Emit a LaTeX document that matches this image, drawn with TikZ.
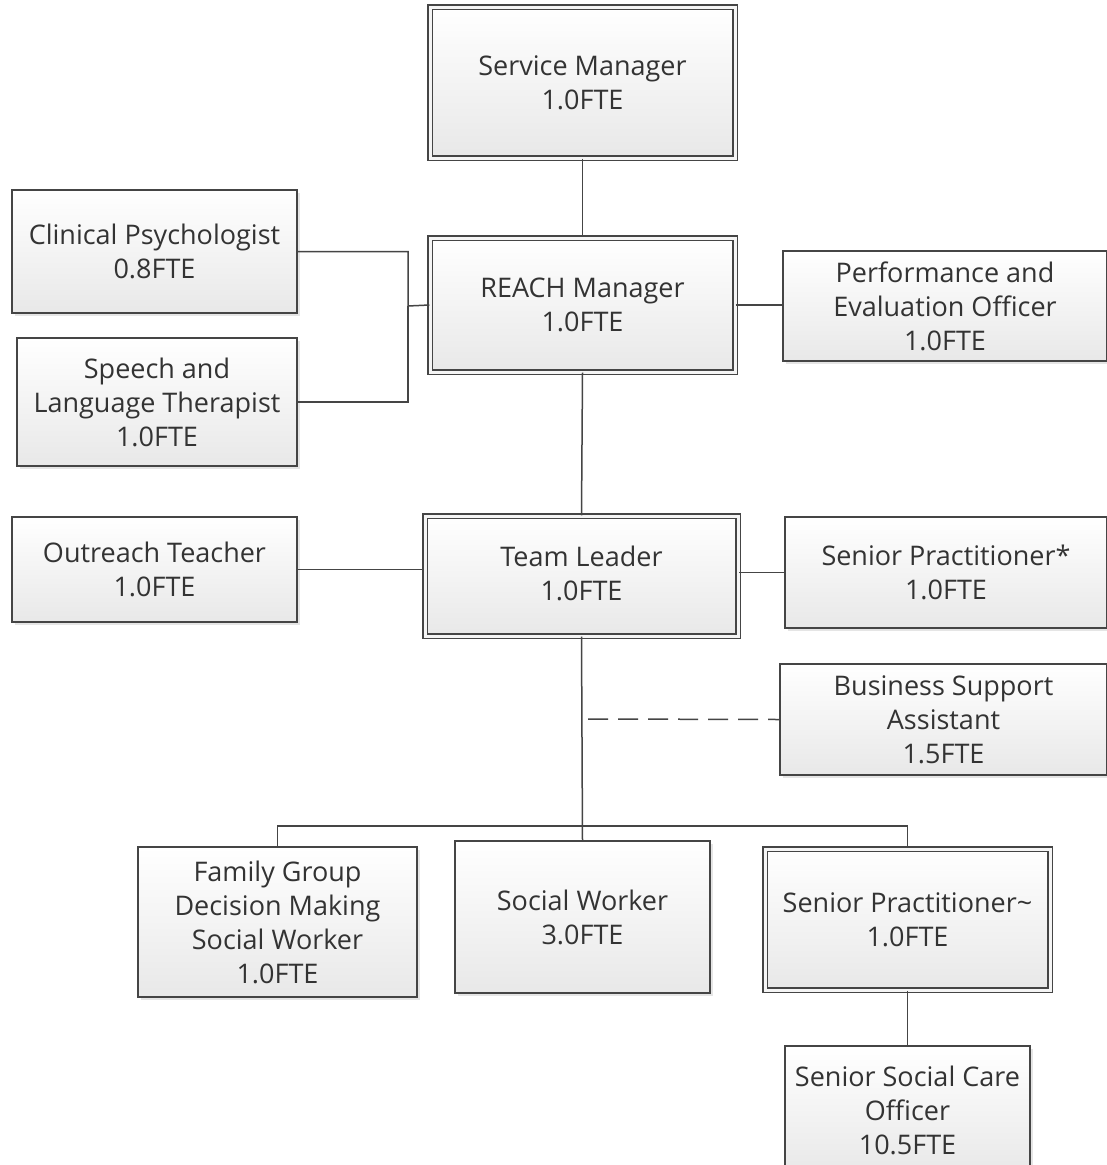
\documentclass[tikz,border=0pt]{standalone}
\usepackage{fontspec}
\setmainfont{Open Sans}
\usetikzlibrary{shadows}
\definecolor{ln}{HTML}{454545}
\definecolor{tx}{HTML}{333333}
\tikzset{
  box/.style={draw=ln, line width=1.6pt, top color=white, bottom color=black!9,
    drop shadow={shadow xshift=2.5pt, shadow yshift=-2.5pt, opacity=0.2},
    align=center, text=tx, font=\fontsize{27}{34}\selectfont, inner sep=0pt},
  dbox/.style={box, line width=1.3pt, double=black!4, double distance=3pt},
  conn/.style={draw=ln, line width=1.5pt},
  dconn/.style={conn, dash pattern=on 20pt off 10pt}
}
\begin{document}
\begin{tikzpicture}[x=1pt, y=-1pt]
\useasboundingbox (0,0) rectangle (1107,1165);
\clip (0,0) rectangle (1107,1165);
\fill[white] (0,0) rectangle (1107,1165);

\coordinate (jl) at (408,306);
\coordinate (dd) at (588,719);
\coordinate (bus) at (582,826);

\node[dbox, minimum width=305pt, minimum height=151pt] (sm) at (582.5,82.5) {Service Manager\\1.0FTE};
\node[dbox, minimum width=305pt, minimum height=134pt] (rm) at (582.5,305) {REACH Manager\\1.0FTE};
\node[box, minimum width=285pt, minimum height=123pt] (cp) at (154.5,251.5) {Clinical Psychologist\\0.8FTE};
\node[box, minimum width=280pt, minimum height=128pt] (slt) at (157,402) {Speech and\\Language Therapist\\1.0FTE};
\node[box, minimum width=324pt, minimum height=110pt] (peo) at (945,306) {Performance and\\Evaluation Officer\\1.0FTE};
\node[dbox, minimum width=313pt, minimum height=120pt, text depth=6pt] (tl) at (581.5,576) {Team Leader\\1.0FTE};
\node[box, minimum width=285pt, minimum height=105pt] (ot) at (154.5,569.5) {Outreach Teacher\\1.0FTE};
\node[box, minimum width=322pt, minimum height=111pt] (spa) at (946,572.5) {Senior Practitioner*\\1.0FTE};
\node[box, minimum width=327pt, minimum height=111pt] (bsa) at (943.5,719.5) {Business Support\\Assistant\\1.5FTE};
\node[box, minimum width=279pt, minimum height=150pt] (fg) at (277.5,922) {Family Group\\Decision Making\\Social Worker\\1.0FTE};
\node[box, minimum width=255pt, minimum height=152pt] (sw) at (582.5,917) {Social Worker\\3.0FTE};
\node[dbox, minimum width=285pt, minimum height=141pt] (spt) at (907.5,919.5) {Senior Practitioner\textasciitilde\\1.0FTE};
\node[box, minimum width=245pt, minimum height=128pt] (ssco) at (907.5,1110) {Senior Social Care\\Officer\\10.5FTE};

\draw[conn] (sm.south) -- (rm.north);
\draw[conn] (cp.east) -| (jl) -- (rm.west);
\draw[conn] (slt.east) -| (jl);
\draw[conn] (rm.east) -- (rm.east -| peo.west);
\draw[conn] (rm.south) -- (tl.north);
\draw[conn] (ot.east |- ot.center) -- (ot.center -| tl.west);
\draw[conn] (spa.west |- spa.center) -- (spa.center -| tl.east);
\draw[dconn] (dd) -- (bsa.west);
\draw[conn] (tl.south) -- (sw.north);
\draw[conn] (fg.north) |- (bus) -| (spt.north);
\draw[conn] (spt.south) -- (ssco.north);
\end{tikzpicture}
\end{document}
